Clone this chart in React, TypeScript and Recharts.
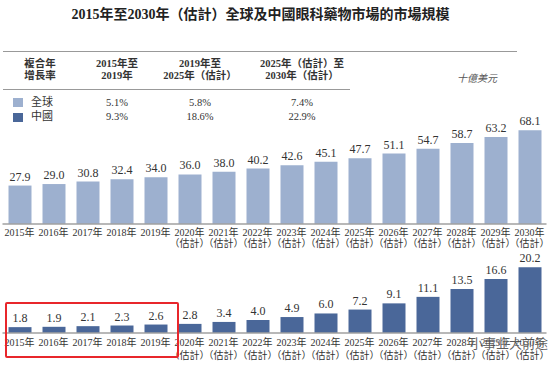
import React from 'react';
import { BarChart, Bar, XAxis, YAxis, LabelList } from 'recharts';

const years = ['2015', '2016', '2017', '2018', '2019', '2020', '2021', '2022', '2023', '2024', '2025', '2026', '2027', '2028', '2029', '2030'];
const globalValues = [27.9, 29.0, 30.8, 32.4, 34.0, 36.0, 38.0, 40.2, 42.6, 45.1, 47.7, 51.1, 54.7, 58.7, 63.2, 68.1];
const chinaValues = [1.8, 1.9, 2.1, 2.3, 2.6, 2.8, 3.4, 4.0, 4.9, 6.0, 7.2, 9.1, 11.1, 13.5, 16.6, 20.2];
const cagrHeaders = [['2015年至', '2019年'], ['2019年至', '2025年（估計）'], ['2025年（估計）至', '2030年（估計）']];
const cagrGlobal = ['5.1%', '5.8%', '7.4%'];
const cagrChina = ['9.3%', '18.6%', '22.9%'];

const data = years.map((y, i) => ({ year: y, global: globalValues[i], china: chinaValues[i] }));

const FONT = '"Liberation Serif", "Noto Sans CJK TC", serif';
const LIGHT = '#9DB0CF';
const DARK = '#4A6799';
const TEXT = '#333';

const makeTick = (l1: number, l2: number) => (props: any) => {
  const { x, y, payload } = props;
  const est = Number(payload.value) >= 2020;
  return (
    <g>
      <text x={x} y={y + l1} textAnchor="middle" fontSize={10} fill={TEXT} fontFamily={FONT}>{payload.value}年</text>
      {est && (
        <text x={x} y={y + l2} textAnchor="middle" fontSize={10} fill={TEXT} fontFamily={FONT}>（估計）</text>
      )}
    </g>
  );
};

const fmt = (v: any) => Number(v).toFixed(1);

const colX = [117, 200, 302];

export default function App() {
  return (
    <div style={{ position: 'absolute', left: 0, top: 0, width: 554, height: 368, background: '#fff', fontFamily: FONT, color: TEXT, overflow: 'hidden' }}>
      <div style={{ position: 'absolute', left: 0, width: 521, top: 6, textAlign: 'center', fontSize: 14, fontWeight: 'bold', lineHeight: '18px', color: '#222' }}>
        2015年至2030年（估計）全球及中國眼科藥物市場的市場規模
      </div>
      <div style={{ position: 'absolute', left: 3, top: 51, width: 514, height: 0, borderTop: '1.5px solid #999' }} />
      <div style={{ position: 'absolute', left: 3, top: 88.5, width: 347, height: 0, borderTop: '1.5px solid #999' }} />
      <div style={{ position: 'absolute', left: 0, width: 80, top: 58, textAlign: 'center', fontSize: 10.5, fontWeight: 'bold', lineHeight: '12px' }}>
        複合年<br />增長率
      </div>
      {cagrHeaders.map((h, i) => (
        <div key={i} style={{ position: 'absolute', left: colX[i] - 60, width: 120, top: 58, textAlign: 'center', fontSize: 10.5, fontWeight: 'bold', lineHeight: '12px' }}>
          {h[0]}<br />{h[1]}
        </div>
      ))}
      <div style={{ position: 'absolute', left: 440, width: 74, top: 72, textAlign: 'center', fontSize: 10, fontStyle: 'italic', color: '#555', lineHeight: '14px' }}>
        十億美元
      </div>
      <div style={{ position: 'absolute', left: 13, top: 98, width: 10, height: 9, background: LIGHT }} />
      <div style={{ position: 'absolute', left: 13, top: 113, width: 10, height: 9, background: DARK }} />
      <div style={{ position: 'absolute', left: 31, top: 96, fontSize: 11, lineHeight: '13px' }}>全球</div>
      <div style={{ position: 'absolute', left: 31, top: 110, fontSize: 11, lineHeight: '13px' }}>中國</div>
      {cagrGlobal.map((v, i) => (
        <div key={'g' + i} style={{ position: 'absolute', left: colX[i] - 40, width: 80, top: 96, textAlign: 'center', fontSize: 10.5, lineHeight: '13px' }}>{v}</div>
      ))}
      {cagrChina.map((v, i) => (
        <div key={'c' + i} style={{ position: 'absolute', left: colX[i] - 40, width: 80, top: 110, textAlign: 'center', fontSize: 10.5, lineHeight: '13px' }}>{v}</div>
      ))}

      <div style={{ position: 'absolute', left: 0, top: 0 }}>
        <BarChart width={554} height={368} data={data} margin={{ top: 100, right: 7.5, bottom: 114, left: 2.5 }}>
          <XAxis dataKey="year" height={30} tickLine={false} tickSize={0} tickMargin={0} interval={0}
            axisLine={{ stroke: '#a0a0a0', strokeWidth: 1.5 }} tick={makeTick(12, 23)} />
          <YAxis hide domain={[0, 90]} />
          <Bar dataKey="global" fill={LIGHT} barSize={23} isAnimationActive={false}>
            <LabelList dataKey="global" position="top" offset={5} formatter={fmt} fill={TEXT} fontSize={12} fontFamily={FONT} />
          </Bar>
        </BarChart>
      </div>
      <div style={{ position: 'absolute', left: 0, top: 0 }}>
        <BarChart width={554} height={368} data={data} margin={{ top: 263, right: 7.5, bottom: 5, left: 2.5 }}>
          <XAxis dataKey="year" height={30} tickLine={false} tickSize={0} tickMargin={0} interval={0}
            axisLine={{ stroke: '#a0a0a0', strokeWidth: 1.5 }} tick={makeTick(13, 26)} />
          <YAxis hide domain={[0, 21.5]} />
          <Bar dataKey="china" fill={DARK} barSize={23} isAnimationActive={false}>
            <LabelList dataKey="china" position="top" offset={5} formatter={fmt} fill={TEXT} fontSize={12} fontFamily={FONT} />
          </Bar>
        </BarChart>
      </div>
      <div style={{ position: 'absolute', left: 5, top: 302, width: 170, height: 52, border: '2px solid #E8262B', borderRadius: 2 }} />
      <div style={{ position: 'absolute', left: 470, top: 335, fontSize: 13, lineHeight: '16px', color: 'rgba(40,40,40,0.75)', fontFamily: '"Noto Sans CJK SC", sans-serif', textShadow: '0 0 2px #fff' }}>
        小事业大前途
      </div>
    </div>
  );
}
